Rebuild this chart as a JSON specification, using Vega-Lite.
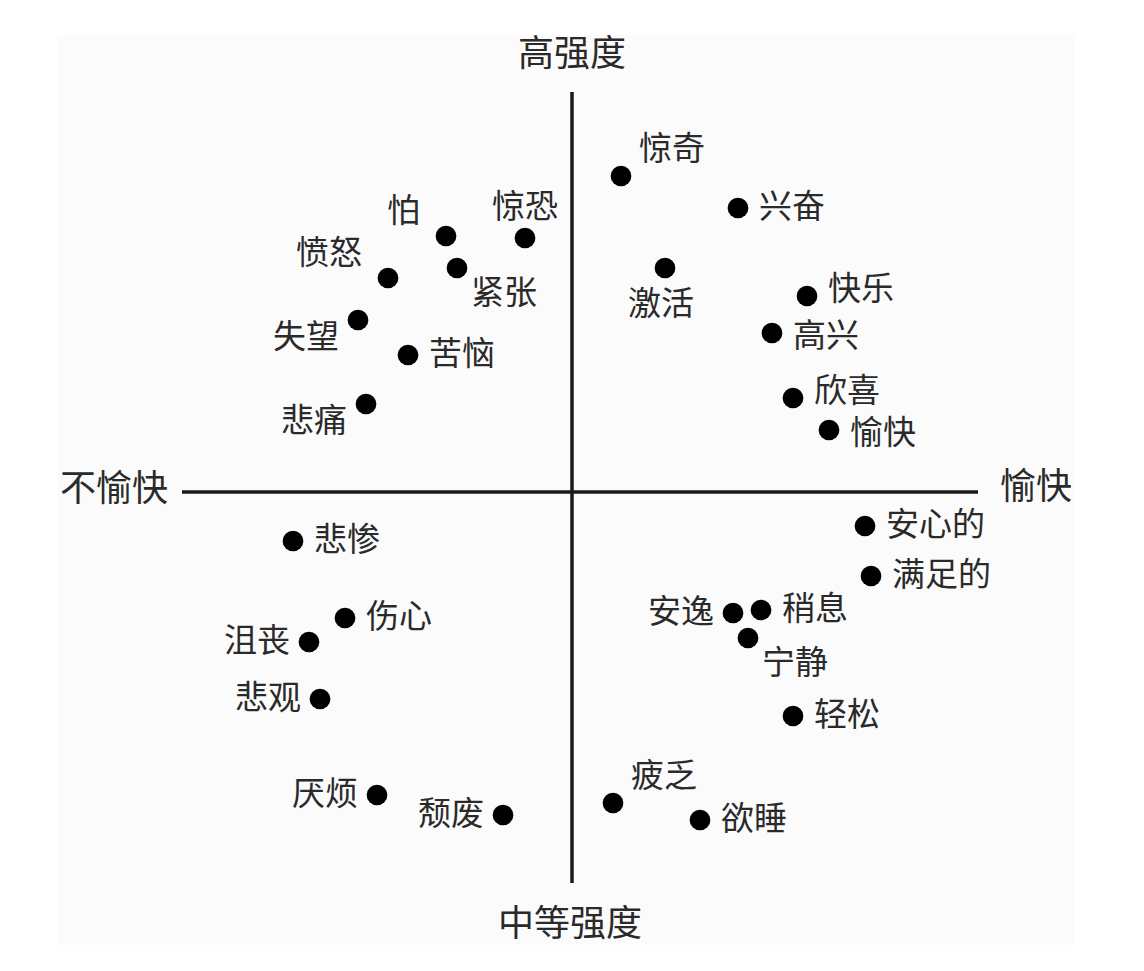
{
  "$schema": "https://vega.github.io/schema/vega-lite/v6.json",
  "width": 1144,
  "height": 971,
  "autosize": {"type": "fit", "contains": "padding"},
  "padding": 0,
  "background": "white",
  "config": {"view": {"stroke": null}, "text": {"font": "Noto Sans CJK SC", "fill": "#2a2a2a", "baseline": "middle"}},
  "datasets": {
    "emotions": [
      {"word": "惊奇", "valence": 1.225, "arousal": 7.9, "pos": "ar"},
      {"word": "兴奋", "valence": 4.15, "arousal": 7.1, "pos": "r"},
      {"word": "激活", "valence": 2.325, "arousal": 5.6, "pos": "b"},
      {"word": "快乐", "valence": 5.875, "arousal": 4.9, "pos": "ru"},
      {"word": "高兴", "valence": 5.0, "arousal": 3.975, "pos": "rd"},
      {"word": "欣喜", "valence": 5.525, "arousal": 2.35, "pos": "ru"},
      {"word": "愉快", "valence": 6.425, "arousal": 1.55, "pos": "rd"},
      {"word": "惊恐", "valence": -1.175, "arousal": 6.35, "pos": "a"},
      {"word": "怕", "valence": -3.15, "arousal": 6.4, "pos": "al"},
      {"word": "愤怒", "valence": -4.6, "arousal": 5.35, "pos": "al"},
      {"word": "紧张", "valence": -2.875, "arousal": 5.6, "pos": "br"},
      {"word": "失望", "valence": -5.35, "arousal": 4.3, "pos": "bl"},
      {"word": "苦恼", "valence": -4.1, "arousal": 3.425, "pos": "r"},
      {"word": "悲痛", "valence": -5.15, "arousal": 2.2, "pos": "bl"},
      {"word": "悲惨", "valence": -6.975, "arousal": -1.225, "pos": "r"},
      {"word": "伤心", "valence": -5.675, "arousal": -3.15, "pos": "r"},
      {"word": "沮丧", "valence": -6.575, "arousal": -3.75, "pos": "l"},
      {"word": "悲观", "valence": -6.3, "arousal": -5.175, "pos": "l"},
      {"word": "厌烦", "valence": -4.875, "arousal": -7.575, "pos": "l"},
      {"word": "颓废", "valence": -1.725, "arousal": -8.075, "pos": "l"},
      {"word": "疲乏", "valence": 1.025, "arousal": -7.775, "pos": "ar"},
      {"word": "欲睡", "valence": 3.2, "arousal": -8.2, "pos": "r"},
      {"word": "轻松", "valence": 5.525, "arousal": -5.6, "pos": "r"},
      {"word": "宁静", "valence": 4.4, "arousal": -3.65, "pos": "br"},
      {"word": "安逸", "valence": 4.025, "arousal": -3.025, "pos": "l"},
      {"word": "稍息", "valence": 4.725, "arousal": -2.95, "pos": "r"},
      {"word": "安心的", "valence": 7.325, "arousal": -0.85, "pos": "r"},
      {"word": "满足的", "valence": 7.475, "arousal": -2.1, "pos": "r"}
    ],
    "axes": [
      {"x": -9.75, "x2": 10.15, "y": 0, "y2": 0},
      {"x": 0, "x2": 0, "y": 10, "y2": -9.775}
    ],
    "poles": [
      {"label": "高强度", "x": 0, "y": 10.925},
      {"label": "中等强度", "x": -0.05, "y": -10.825},
      {"label": "不愉快", "x": -11.45, "y": 0.05},
      {"label": "愉快", "x": 11.6, "y": 0.1}
    ],
    "panel": [
      {"x": -12.875, "x2": 12.575, "y": 11.425, "y2": -11.325}
    ]
  },
  "layer": [
    {
      "data": {"name": "panel"},
      "mark": {"type": "rect", "fill": "#fbfbfb"},
      "encoding": {
        "x": {"field": "x", "type": "quantitative", "scale": {"domain": [-14.3, 14.3], "nice": false, "zero": false}, "axis": null},
        "x2": {"field": "x2"},
        "y": {"field": "y", "type": "quantitative", "scale": {"domain": [-11.975, 12.3], "nice": false, "zero": false}, "axis": null},
        "y2": {"field": "y2"}
      }
    },
    {
      "data": {"name": "axes"},
      "mark": {"type": "rule", "stroke": "#1a1a1a", "strokeWidth": 3.5},
      "encoding": {
        "x": {"field": "x", "type": "quantitative"},
        "x2": {"field": "x2"},
        "y": {"field": "y", "type": "quantitative"},
        "y2": {"field": "y2"}
      }
    },
    {
      "data": {"name": "poles"},
      "mark": {"type": "text", "fontSize": 36, "align": "center"},
      "encoding": {
        "x": {"field": "x", "type": "quantitative"},
        "y": {"field": "y", "type": "quantitative"},
        "text": {"field": "label"}
      }
    },
    {
      "data": {"name": "emotions"},
      "mark": {"type": "point", "shape": "circle", "filled": true, "size": 430, "color": "#000000", "opacity": 1},
      "encoding": {
        "x": {"field": "valence", "type": "quantitative"},
        "y": {"field": "arousal", "type": "quantitative"}
      }
    },
    {
      "data": {"name": "emotions"},
      "transform": [{"filter": "datum.pos === 'r'"}],
      "mark": {"type": "text", "fontSize": 33, "align": "left", "dx": 21},
      "encoding": {"x": {"field": "valence", "type": "quantitative"}, "y": {"field": "arousal", "type": "quantitative"}, "text": {"field": "word"}}
    },
    {
      "data": {"name": "emotions"},
      "transform": [{"filter": "datum.pos === 'ru'"}],
      "mark": {"type": "text", "fontSize": 33, "align": "left", "dx": 21, "dy": -6},
      "encoding": {"x": {"field": "valence", "type": "quantitative"}, "y": {"field": "arousal", "type": "quantitative"}, "text": {"field": "word"}}
    },
    {
      "data": {"name": "emotions"},
      "transform": [{"filter": "datum.pos === 'rd'"}],
      "mark": {"type": "text", "fontSize": 33, "align": "left", "dx": 21, "dy": 4},
      "encoding": {"x": {"field": "valence", "type": "quantitative"}, "y": {"field": "arousal", "type": "quantitative"}, "text": {"field": "word"}}
    },
    {
      "data": {"name": "emotions"},
      "transform": [{"filter": "datum.pos === 'l'"}],
      "mark": {"type": "text", "fontSize": 33, "align": "right", "dx": -19},
      "encoding": {"x": {"field": "valence", "type": "quantitative"}, "y": {"field": "arousal", "type": "quantitative"}, "text": {"field": "word"}}
    },
    {
      "data": {"name": "emotions"},
      "transform": [{"filter": "datum.pos === 'a'"}],
      "mark": {"type": "text", "fontSize": 33, "align": "center", "dy": -30},
      "encoding": {"x": {"field": "valence", "type": "quantitative"}, "y": {"field": "arousal", "type": "quantitative"}, "text": {"field": "word"}}
    },
    {
      "data": {"name": "emotions"},
      "transform": [{"filter": "datum.pos === 'b'"}],
      "mark": {"type": "text", "fontSize": 33, "align": "center", "dx": -4, "dy": 37},
      "encoding": {"x": {"field": "valence", "type": "quantitative"}, "y": {"field": "arousal", "type": "quantitative"}, "text": {"field": "word"}}
    },
    {
      "data": {"name": "emotions"},
      "transform": [{"filter": "datum.pos === 'ar'"}],
      "mark": {"type": "text", "fontSize": 33, "align": "left", "dx": 18, "dy": -26},
      "encoding": {"x": {"field": "valence", "type": "quantitative"}, "y": {"field": "arousal", "type": "quantitative"}, "text": {"field": "word"}}
    },
    {
      "data": {"name": "emotions"},
      "transform": [{"filter": "datum.pos === 'al'"}],
      "mark": {"type": "text", "fontSize": 33, "align": "right", "dx": -26, "dy": -24},
      "encoding": {"x": {"field": "valence", "type": "quantitative"}, "y": {"field": "arousal", "type": "quantitative"}, "text": {"field": "word"}}
    },
    {
      "data": {"name": "emotions"},
      "transform": [{"filter": "datum.pos === 'br'"}],
      "mark": {"type": "text", "fontSize": 33, "align": "left", "dx": 14, "dy": 26},
      "encoding": {"x": {"field": "valence", "type": "quantitative"}, "y": {"field": "arousal", "type": "quantitative"}, "text": {"field": "word"}}
    },
    {
      "data": {"name": "emotions"},
      "transform": [{"filter": "datum.pos === 'bl'"}],
      "mark": {"type": "text", "fontSize": 33, "align": "right", "dx": -19, "dy": 18},
      "encoding": {"x": {"field": "valence", "type": "quantitative"}, "y": {"field": "arousal", "type": "quantitative"}, "text": {"field": "word"}}
    }
  ]
}
